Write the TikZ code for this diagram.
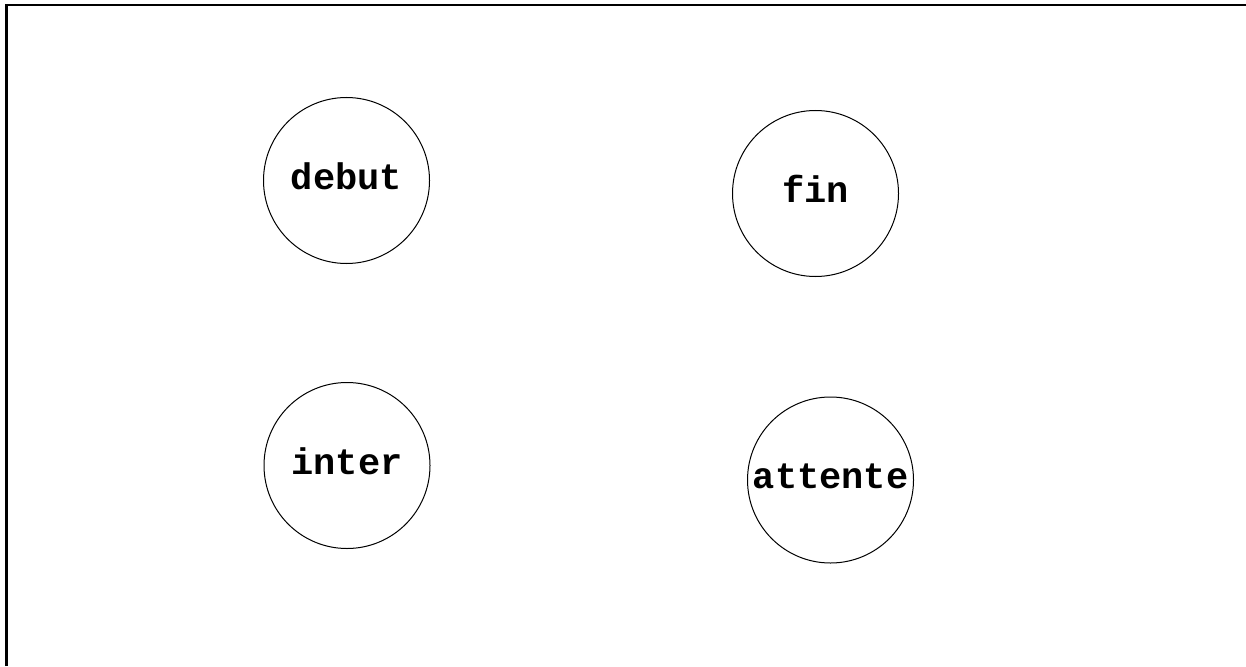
\documentclass[tikz,border=0pt]{standalone}
\usepackage{fontspec}
\setmonofont{Liberation Mono}
\begin{document}
\begin{tikzpicture}[x=1pt,y=-1pt,
  state/.style={circle,draw,line width=1pt,minimum size=166pt,inner sep=0pt,
    text height=20pt,text depth=3pt,
    font=\ttfamily\bfseries\fontsize{37}{40}\selectfont}]
\useasboundingbox (0,0) rectangle (1246,666);
\coordinate (tl) at (6.5,5);
\coordinate (tr) at (1246,5);
\coordinate (bl) at (6.5,666);
\draw[line width=2.2pt] (bl) -- (tl) -- (tr);
\node[state] (debut) at (346.5,180.5) {debut};
\node[state] (fin) at (815.5,193.5) {fin};
\node[state] (inter) at (347,465.5) {inter};
\node[state] (attente) at (830.5,480) {attente};
\end{tikzpicture}
\end{document}
